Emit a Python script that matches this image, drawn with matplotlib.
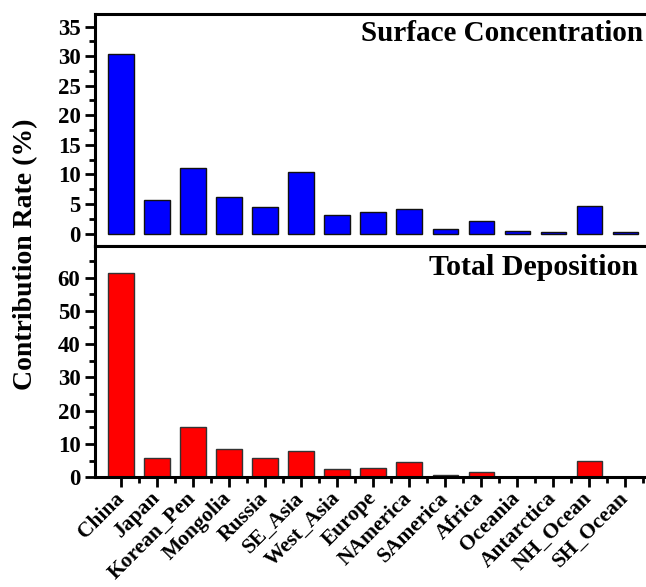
import numpy as np
import matplotlib
matplotlib.use("Agg")
import matplotlib.pyplot as plt
from matplotlib.ticker import MultipleLocator

regions = ["China", "Japan", "Korean_Pen", "Mongolia", "Russia", "SE_Asia",
           "West_Asia", "Europe", "NAmerica", "SAmerica", "Africa", "Oceania",
           "Antarctica", "NH_Ocean", "SH_Ocean"]

# contribution rate (%) to surface concentration
surface = [30.3, 5.7, 11.0, 6.2, 4.5, 10.4, 3.2, 3.6, 4.2, 0.7, 2.1, 0.4, 0.25, 4.7, 0.3]
# contribution rate (%) to total deposition
deposition = [61.5, 5.7, 15.1, 8.4, 5.7, 7.95, 2.4, 2.8, 4.7, 0.7, 1.5, 0.2, 0.05, 4.9, 0.05]

plt.rcParams['font.family'] = ['Liberation Serif', 'DejaVu Serif']
plt.rcParams['font.weight'] = 'bold'

fig = plt.figure(figsize=(6.46, 5.87), dpi=100)
ax1 = fig.add_axes([0.147, 0.581, 0.861, 0.395])
ax2 = fig.add_axes([0.147, 0.187, 0.861, 0.394])

x = np.arange(len(regions))

ax1.bar(x, surface, width=0.7, color='#0000ff', edgecolor='#111111', linewidth=1.0)
ax2.bar(x, deposition, width=0.7, color='#ff0000', edgecolor='#333333', linewidth=1.0)

ax1.set_xlim(-0.72, 14.72)
ax2.set_xlim(-0.72, 14.72)
ax1.set_ylim(-2.1, 37.1)
ax2.set_ylim(0, 69.5)

ax1.yaxis.set_major_locator(MultipleLocator(5))
ax1.yaxis.set_minor_locator(MultipleLocator(2.5))
ax2.yaxis.set_major_locator(MultipleLocator(10))
ax2.yaxis.set_minor_locator(MultipleLocator(5))

ax2.set_xticks(x)
ax2.set_xticklabels(regions, rotation=45, ha='right', va='center',
                    rotation_mode='anchor', fontsize=15.5)
ax2.set_xticks(x + 0.5, minor=True)

ax1.tick_params(axis='x', which='both', bottom=False, labelbottom=False)

for ax in (ax1, ax2):
    for s in ax.spines.values():
        s.set_linewidth(2.2)
    ax.spines['right'].set_visible(False)
    ax.tick_params(which='major', direction='out', length=7, width=2.0)
    ax.tick_params(which='minor', direction='out', length=4, width=2.0)
    ax.tick_params(axis='y', labelsize=16.5)
    for lab in ax.get_yticklabels() + ax.get_xticklabels():
        lab.set_fontweight('bold')
ax2.tick_params(axis='x', which='major', pad=6)

ax1.text(0.985, 0.918, "Surface Concentration", transform=ax1.transAxes,
         ha='right', va='center', fontsize=21, fontweight='bold')
ax2.text(0.976, 0.905, "Total Deposition", transform=ax2.transAxes,
         ha='right', va='center', fontsize=21.5, fontweight='bold')

fig.text(0.039, 0.567, "Contribution Rate (%)", rotation=90, ha='center', va='center',
         fontsize=20, fontweight='bold')

fig.savefig("out.png", dpi=100)
